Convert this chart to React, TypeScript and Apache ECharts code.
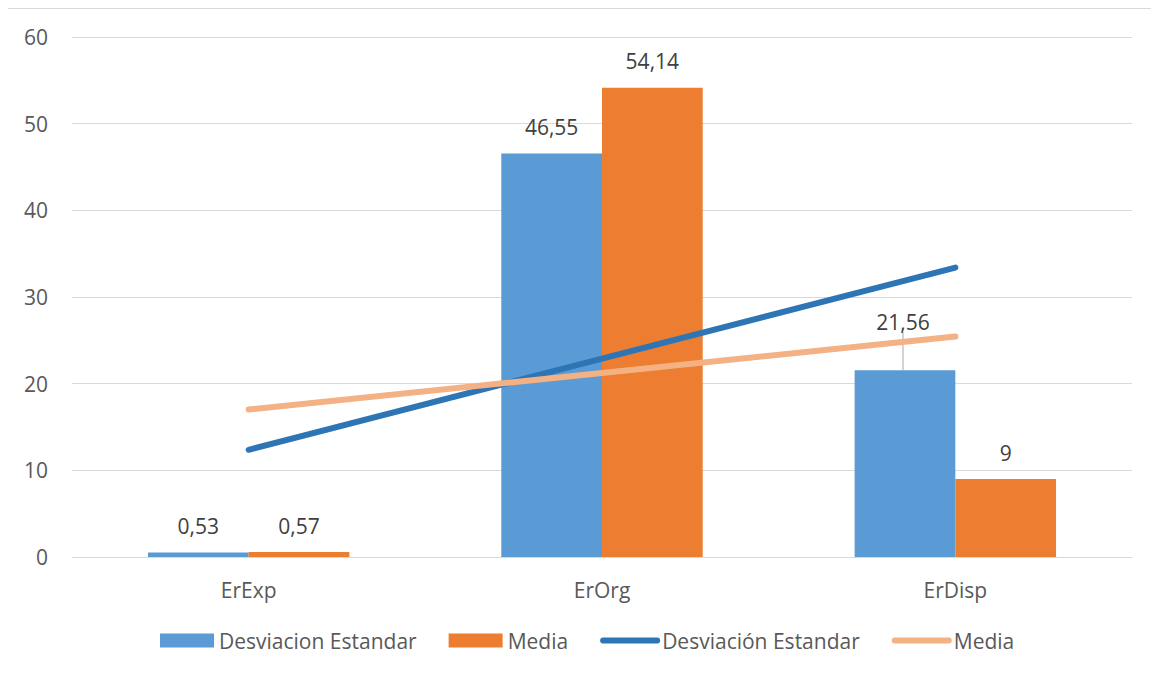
import React, { useEffect, useRef } from "react";
import * as echarts from "echarts";

const categories = ["ErExp", "ErOrg", "ErDisp"];
const desviacionValues = [0.53, 46.55, 21.56];
const mediaValues = [0.57, 54.14, 9];
// Linear trend lines (value at each category)
const desviacionTrend = [12.37, 22.88, 33.4];
const mediaTrend = [17.02, 21.24, 25.45];
const yTicks = [0, 10, 20, 30, 40, 50, 60];

const BAR_NAME = "Desviacion Estandar";
const BAR_MEDIA = "Media";
const LINE_NAME = "Desviación Estandar";
const LINE_MEDIA_KEY = "Media (tendencia)";

const FONT = "'Open Sans', sans-serif";

const fmt = (v: number) => String(v).replace(".", ",");

export default function App() {
  const ref = useRef<HTMLDivElement>(null);

  useEffect(() => {
    if (!ref.current) return;
    const chart = echarts.init(ref.current, undefined, { renderer: "svg" });
    const labelCommon = {
      show: true,
      position: "top" as const,
      distance: 16,
      color: "#404040",
      fontSize: 21,
      fontFamily: FONT,
      formatter: (p: any) => fmt(p.value),
    };
    chart.setOption({
      animation: false,
      backgroundColor: "#ffffff",
      textStyle: { fontFamily: FONT },
      grid: { left: 64, right: 26, top: 28, bottom: 118, containLabel: false },
      legend: {
        bottom: 19,
        left: 147,
        itemWidth: 54,
        itemHeight: 14,
        itemGap: 32,
        textStyle: { color: "#595959", fontSize: 21, fontFamily: FONT },
        formatter: (name: string) => (name === LINE_MEDIA_KEY ? "Media" : name),
        data: [
          { name: BAR_NAME, icon: "rect" },
          { name: BAR_MEDIA, icon: "rect" },
          { name: LINE_NAME, itemStyle: { opacity: 0 }, lineStyle: { width: 6, cap: "round" } },
          { name: LINE_MEDIA_KEY, itemStyle: { opacity: 0 }, lineStyle: { width: 6, cap: "round" } },
        ],
      },
      xAxis: {
        type: "category",
        data: categories,
        axisLine: { show: true, lineStyle: { color: "#d9d9d9", width: 1 } },
        axisTick: { show: false },
        axisLabel: { color: "#595959", fontSize: 21, fontFamily: FONT, margin: 22 },
      },
      yAxis: {
        type: "value",
        min: yTicks[0],
        max: yTicks[yTicks.length - 1],
        interval: 10,
        axisLine: { show: false },
        axisTick: { show: false },
        splitLine: { lineStyle: { color: "#d9d9d9", width: 1 } },
        axisLabel: { color: "#595959", fontSize: 21, fontFamily: FONT, margin: 24 },
      },
      series: [
        {
          name: BAR_NAME,
          type: "bar",
          data: desviacionValues.map((v, i) =>
            i === 2
              ? { value: v, labelLine: { show: true, lineStyle: { color: "#a6a6a6", width: 1 } } }
              : v
          ),
          itemStyle: { color: "#5B9BD5" },
          barGap: "0%",
          barCategoryGap: "43%",
          label: labelCommon,
          labelLayout: (p: any) => (p.dataIndex === 2 ? { dy: -22, dx: -2 } : {}),
          z: 2,
        },
        {
          name: BAR_MEDIA,
          type: "bar",
          data: mediaValues,
          itemStyle: { color: "#ED7D31" },
          barGap: "0%",
          barCategoryGap: "43%",
          label: labelCommon,
          z: 2,
        },
        {
          name: LINE_NAME,
          type: "line",
          data: desviacionTrend,
          symbol: "none",
          lineStyle: { color: "#2E75B6", width: 6, cap: "round" },
          itemStyle: { color: "#2E75B6" },
          z: 3,
        },
        {
          name: LINE_MEDIA_KEY,
          type: "line",
          data: mediaTrend,
          symbol: "none",
          lineStyle: { color: "#F4B183", width: 6, cap: "round" },
          itemStyle: { color: "#F4B183" },
          z: 4,
        },
      ],
    });
    return () => chart.dispose();
  }, []);

  return (
    <div
      style={{
        position: "relative",
        width: 1152,
        height: 667,
        marginLeft: -1,
        boxSizing: "border-box",
        border: "1px solid #d9d9d9",
        borderBottom: "none",
      }}
    >
      <div ref={ref} style={{ position: "absolute", left: 0, top: 0, width: 1150, height: 666 }} />
    </div>
  );
}
